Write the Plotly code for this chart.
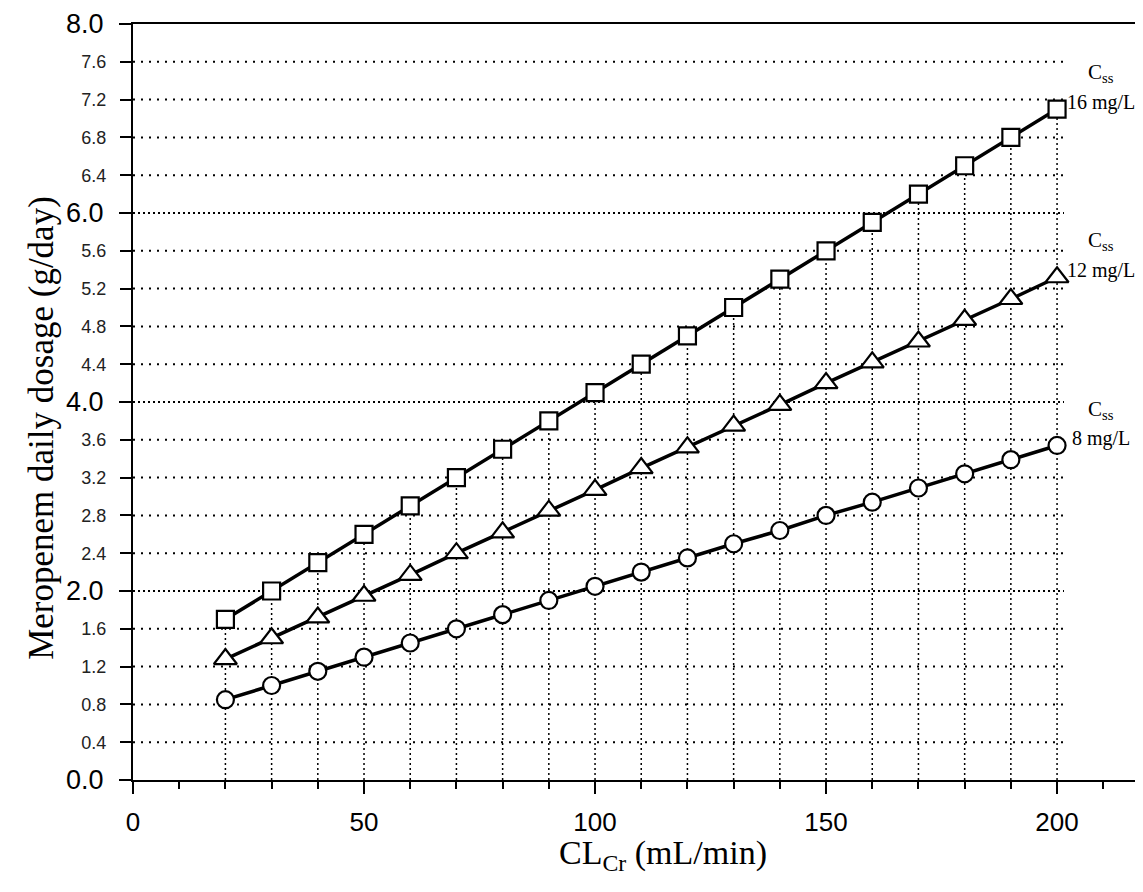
import plotly.graph_objects as go

# creatinine clearance (mL/min)
clcr = [20, 30, 40, 50, 60, 70, 80, 90, 100, 110, 120, 130, 140, 150, 160, 170, 180, 190, 200]

# meropenem daily dose (g/day) for three target Css
dose_16 = [1.70, 2.00, 2.30, 2.60, 2.90, 3.20, 3.50, 3.80, 4.10, 4.40, 4.70, 5.00, 5.30, 5.60, 5.90, 6.20, 6.50, 6.80, 7.10]
dose_12 = [1.28, 1.50, 1.72, 1.95, 2.17, 2.40, 2.62, 2.85, 3.07, 3.30, 3.52, 3.75, 3.97, 4.20, 4.42, 4.64, 4.87, 5.09, 5.32]
dose_8 = [0.85, 1.00, 1.15, 1.30, 1.45, 1.60, 1.75, 1.90, 2.05, 2.20, 2.35, 2.50, 2.64, 2.80, 2.94, 3.09, 3.24, 3.39, 3.54]

major_y = [0.0, 2.0, 4.0, 6.0, 8.0]
minor_y = [0.4, 0.8, 1.2, 1.6, 2.4, 2.8, 3.2, 3.6, 4.4, 4.8, 5.2, 5.6, 6.4, 6.8, 7.2, 7.6]
x_ticks = [0, 50, 100, 150, 200]

labels = ["16 mg/L", "12 mg/L", "8 mg/L"]
series = [dose_16, dose_12, dose_8]
symbols = ["square", "triangle-up", "circle"]
sizes = [17, 20, 17]

SERIF = "Times New Roman, Liberation Serif, serif"
SANS = "Arial, Liberation Sans, sans-serif"
GRID_END = 201.5  # horizontal grid stops just past the last column

fig = go.Figure()


def hlines(levels):
    xs, ys = [], []
    for v in levels:
        xs += [0, GRID_END, None]
        ys += [v, v, None]
    return xs, ys


# horizontal dotted grid (denser dots on the major levels)
gx, gy = hlines(minor_y)
fig.add_trace(go.Scatter(x=gx, y=gy, mode="lines", hoverinfo="skip", showlegend=False,
                         line=dict(color="black", width=2, dash="2px,6px")))
gx, gy = hlines(major_y[1:-1])
fig.add_trace(go.Scatter(x=gx, y=gy, mode="lines", hoverinfo="skip", showlegend=False,
                         line=dict(color="black", width=2, dash="2px,3px")))

# dotted drop lines from the top curve down to the x axis
top = [max(a, b, c) for a, b, c in zip(dose_16, dose_12, dose_8)]
vx, vy = [], []
for x, t in zip(clcr, top):
    vx += [x, x, None]
    vy += [0, t, None]
fig.add_trace(go.Scatter(x=vx, y=vy, mode="lines", hoverinfo="skip",
                         line=dict(color="black", width=1.5, dash="2px,3px"), showlegend=False))

for ys, sym, sz in zip(series, symbols, sizes):
    fig.add_trace(go.Scatter(
        x=clcr, y=ys, mode="lines+markers", showlegend=False,
        line=dict(color="black", width=3.5),
        marker=dict(symbol=sym, size=sz, color="white",
                    line=dict(color="black", width=2.2)),
    ))

# curve labels at the right end
for ys, lab in zip(series, labels):
    y_end = ys[-1]
    fig.add_annotation(x=209.5, y=y_end + 0.38, text="C<sub>ss</sub>", showarrow=False,
                       font=dict(family=SERIF, size=21, color="black"), xanchor="center", yanchor="middle")
    fig.add_annotation(x=209.5, y=y_end + 0.07, text=lab, showarrow=False,
                       font=dict(family=SERIF, size=20, color="black"), xanchor="center", yanchor="middle")

# axis titles
fig.add_annotation(xref="paper", yref="paper", x=-0.090, y=0.466, textangle=-90,
                   xanchor="center", yanchor="middle",
                   text="Meropenem daily dosage (g/day)", showarrow=False,
                   font=dict(family=SERIF, size=35, color="black"))
fig.add_annotation(xref="paper", yref="paper", x=0.525, y=-0.099,
                   xanchor="center", yanchor="middle",
                   text="CL<sub>Cr</sub> (mL/min)", showarrow=False,
                   font=dict(family=SERIF, size=34, color="black"))

fig.update_layout(
    width=1135, height=884,
    margin=dict(l=125, r=0, t=16, b=112, autoexpand=False),
    plot_bgcolor="white", paper_bgcolor="white",
    xaxis=dict(range=[0, 218.6], tickvals=x_ticks, ticks="outside", ticklen=12, tickwidth=2,
               tickcolor="black", showline=True, linecolor="black", linewidth=2, mirror=True,
               showgrid=False, zeroline=False, ticklabelstandoff=6,
               tickfont=dict(family=SANS, size=26, color="black"),
               minor=dict(dtick=10, tick0=0, ticks="outside", ticklen=7, tickwidth=2,
                          tickcolor="black", showgrid=False)),
    yaxis=dict(range=[0, 8], tickvals=major_y, ticktext=[f"{v:.1f}" for v in major_y],
               ticks="outside", ticklen=12, tickwidth=2, tickcolor="black",
               showline=True, linecolor="black", linewidth=2, zeroline=False, showgrid=False,
               ticklabelstandoff=10, tickfont=dict(family=SANS, size=27, color="black")),
    yaxis2=dict(range=[0, 8], overlaying="y", side="left", anchor="x",
                tickvals=minor_y, ticktext=[f"{v:.1f}" for v in minor_y],
                ticks="outside", ticklen=12, tickwidth=2, tickcolor="black",
                showline=False, zeroline=False, showgrid=False,
                ticklabelstandoff=10, tickfont=dict(family=SANS, size=18, color="#222")),
)

# dummy trace so yaxis2 is drawn
fig.add_trace(go.Scatter(x=[None], y=[None], yaxis="y2", showlegend=False, hoverinfo="skip"))

fig.write_html("out.html")
